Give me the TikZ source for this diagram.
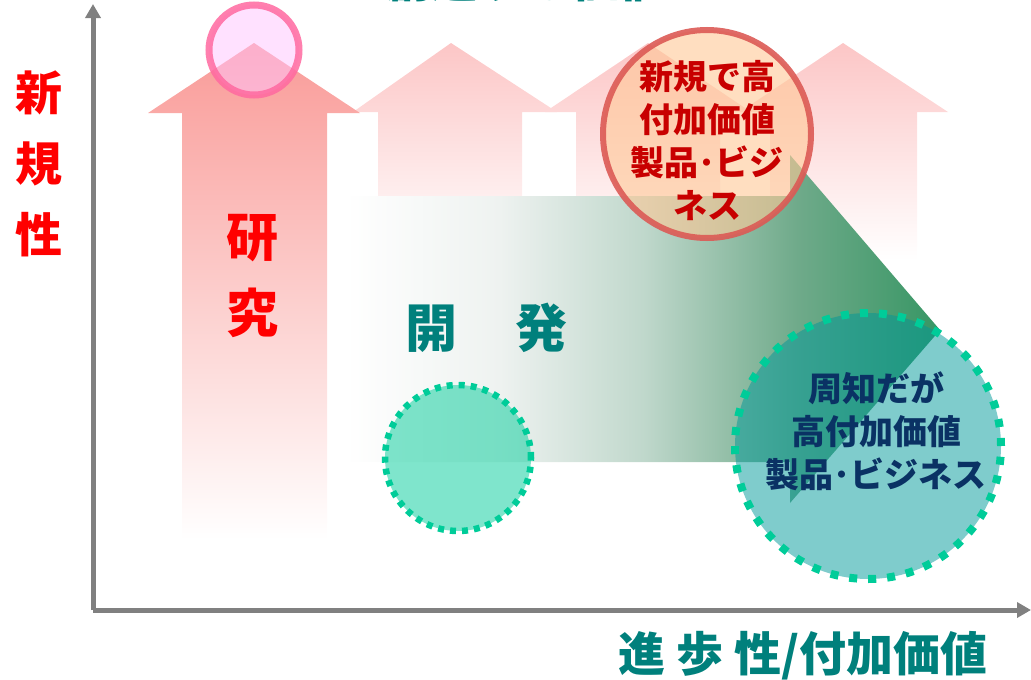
\documentclass[tikz,border=0pt]{standalone}
\usepackage{fontspec}
\setmainfont{Noto Sans CJK JP}
\usetikzlibrary{arrows.meta}
\definecolor{axisgray}{RGB}{128,128,128}
\definecolor{tealtxt}{RGB}{0,128,124}
\definecolor{redtxt}{RGB}{255,0,0}
\definecolor{darkred}{RGB}{200,0,0}
\definecolor{navy}{RGB}{10,50,100}
\definecolor{pinkA}{RGB}{249,155,152}
\definecolor{pinkAm}{RGB}{253,203,203}
\definecolor{pinkB}{RGB}{252,198,198}
\definecolor{pinkBm}{RGB}{254,226,226}
\definecolor{dA}{RGB}{238,242,240}
\definecolor{dB}{RGB}{192,216,204}
\definecolor{dC}{RGB}{111,170,138}
\definecolor{dD}{RGB}{55,150,100}
\definecolor{pinkring}{RGB}{255,105,160}
\definecolor{pinkfill}{RGB}{255,196,255}
\definecolor{redring}{RGB}{220,90,85}
\definecolor{peach}{RGB}{255,200,150}
\definecolor{mint}{RGB}{0,204,153}
\definecolor{tealfill}{RGB}{0,153,153}
\pgfdeclarehorizontalshading{devshade}{100bp}{color(0bp)=(white); color(25bp)=(white); color(38bp)=(dA); color(50bp)=(dB); color(63bp)=(dC); color(75bp)=(dD); color(100bp)=(dD)}
\tikzset{
  axisline/.style={draw=axisgray, line width=5pt, -{Triangle[width=15pt,length=14pt]}},
  resarrow/.style={top color=pinkA, middle color=pinkAm, bottom color=white, draw=none},
  upshape/.style={top color=pinkB, middle color=pinkBm, bottom color=white, draw=none},
  jpbig/.style={font=\fontsize{47}{71}\selectfont\bfseries, inner sep=0pt},
  jpmid/.style={font=\fontsize{34}{43}\selectfont\bfseries, align=center, inner sep=0pt},
  dotring/.style={circle, inner sep=0pt, draw=mint, fill=mint, fill opacity=0.5, draw opacity=1}
}
\begin{document}
\begin{tikzpicture}[x=1pt,y=-1pt]
\useasboundingbox (0,0) rectangle (1031,680);

% cut-off title at the top
\node (title) [jpbig, text=tealtxt, anchor=base] at (525,-2) {創造する価値};

% pink upward arrows
\shade[upshape] (378,260) -- (378,112) -- (353,112) -- (451,43) -- (557,112) -- (522,112) -- (522,260) -- cycle;
\shade[upshape] (576,260) -- (576,112) -- (545,112) -- (648,43) -- (751,112) -- (720,112) -- (720,260) -- cycle;
\shade[upshape] (770,260) -- (770,112) -- (740,112) -- (843,43) -- (948,112) -- (917,112) -- (917,260) -- cycle;
\shade[resarrow] (182,540) -- (182,113) -- (148,113) -- (254,43) -- (360,113) -- (327,113) -- (327,540) -- cycle;

% pink circle on top of research arrow
\node (pc) [circle, inner sep=0pt, minimum size=90pt, line width=7pt, draw=pinkring, draw opacity=0.85, fill=pinkfill, fill opacity=0.5] at (254,50) {};

% development arrow
\shade[shading=devshade] (345,196) -- (790,196) -- (790,155) -- (940,330) -- (790,503) -- (790,462) -- (345,462) -- cycle;

% red circle
\node (rc) [circle, inner sep=0pt, minimum size=208pt, line width=6pt, draw=redring, draw opacity=0.9, fill=peach, fill opacity=0.6] at (707,134) {};
\node (rct) [jpmid, text=darkred] at (707,141) {新規で高\\付加価値\\製品･ビジ\\ネス};

% dotted circles
\node (sc) [dotring, minimum size=146pt, line width=6.5pt, dash pattern=on 6pt off 6pt] at (458,458) {};
\node (lc) [dotring, draw=mint, fill=tealfill, minimum size=266pt, line width=8pt, dash pattern=on 8pt off 11pt] at (868,446) {};
\node (lct) [jpmid, text=navy] at (876,431) {周知だが\\高付加価値\\製品･ビジネス};

% labels
\node (res) [font=\fontsize{52}{76}\selectfont\bfseries, align=center, inner sep=0pt, text=redtxt] at (252,276) {研\\究};
\node (dev) [font=\fontsize{52}{60}\selectfont\bfseries, inner sep=0pt, text=tealtxt, anchor=west] at (405,328) {開\hspace{58pt}発};

% axes
\coordinate (O) at (93,610);
\coordinate (Ytop) at (93,4);
\coordinate (Xend) at (1031,610);
\draw[axisline] (O) -- (Ytop);
\draw[axisline] (O) -- (Xend);

\node (ylab) [jpbig, align=center, text=redtxt] at (39,164) {新\\規\\性};
\node (xlab) [jpbig, text=tealtxt] at (803,656) {進 歩 性/付加価値};
\end{tikzpicture}
\end{document}
